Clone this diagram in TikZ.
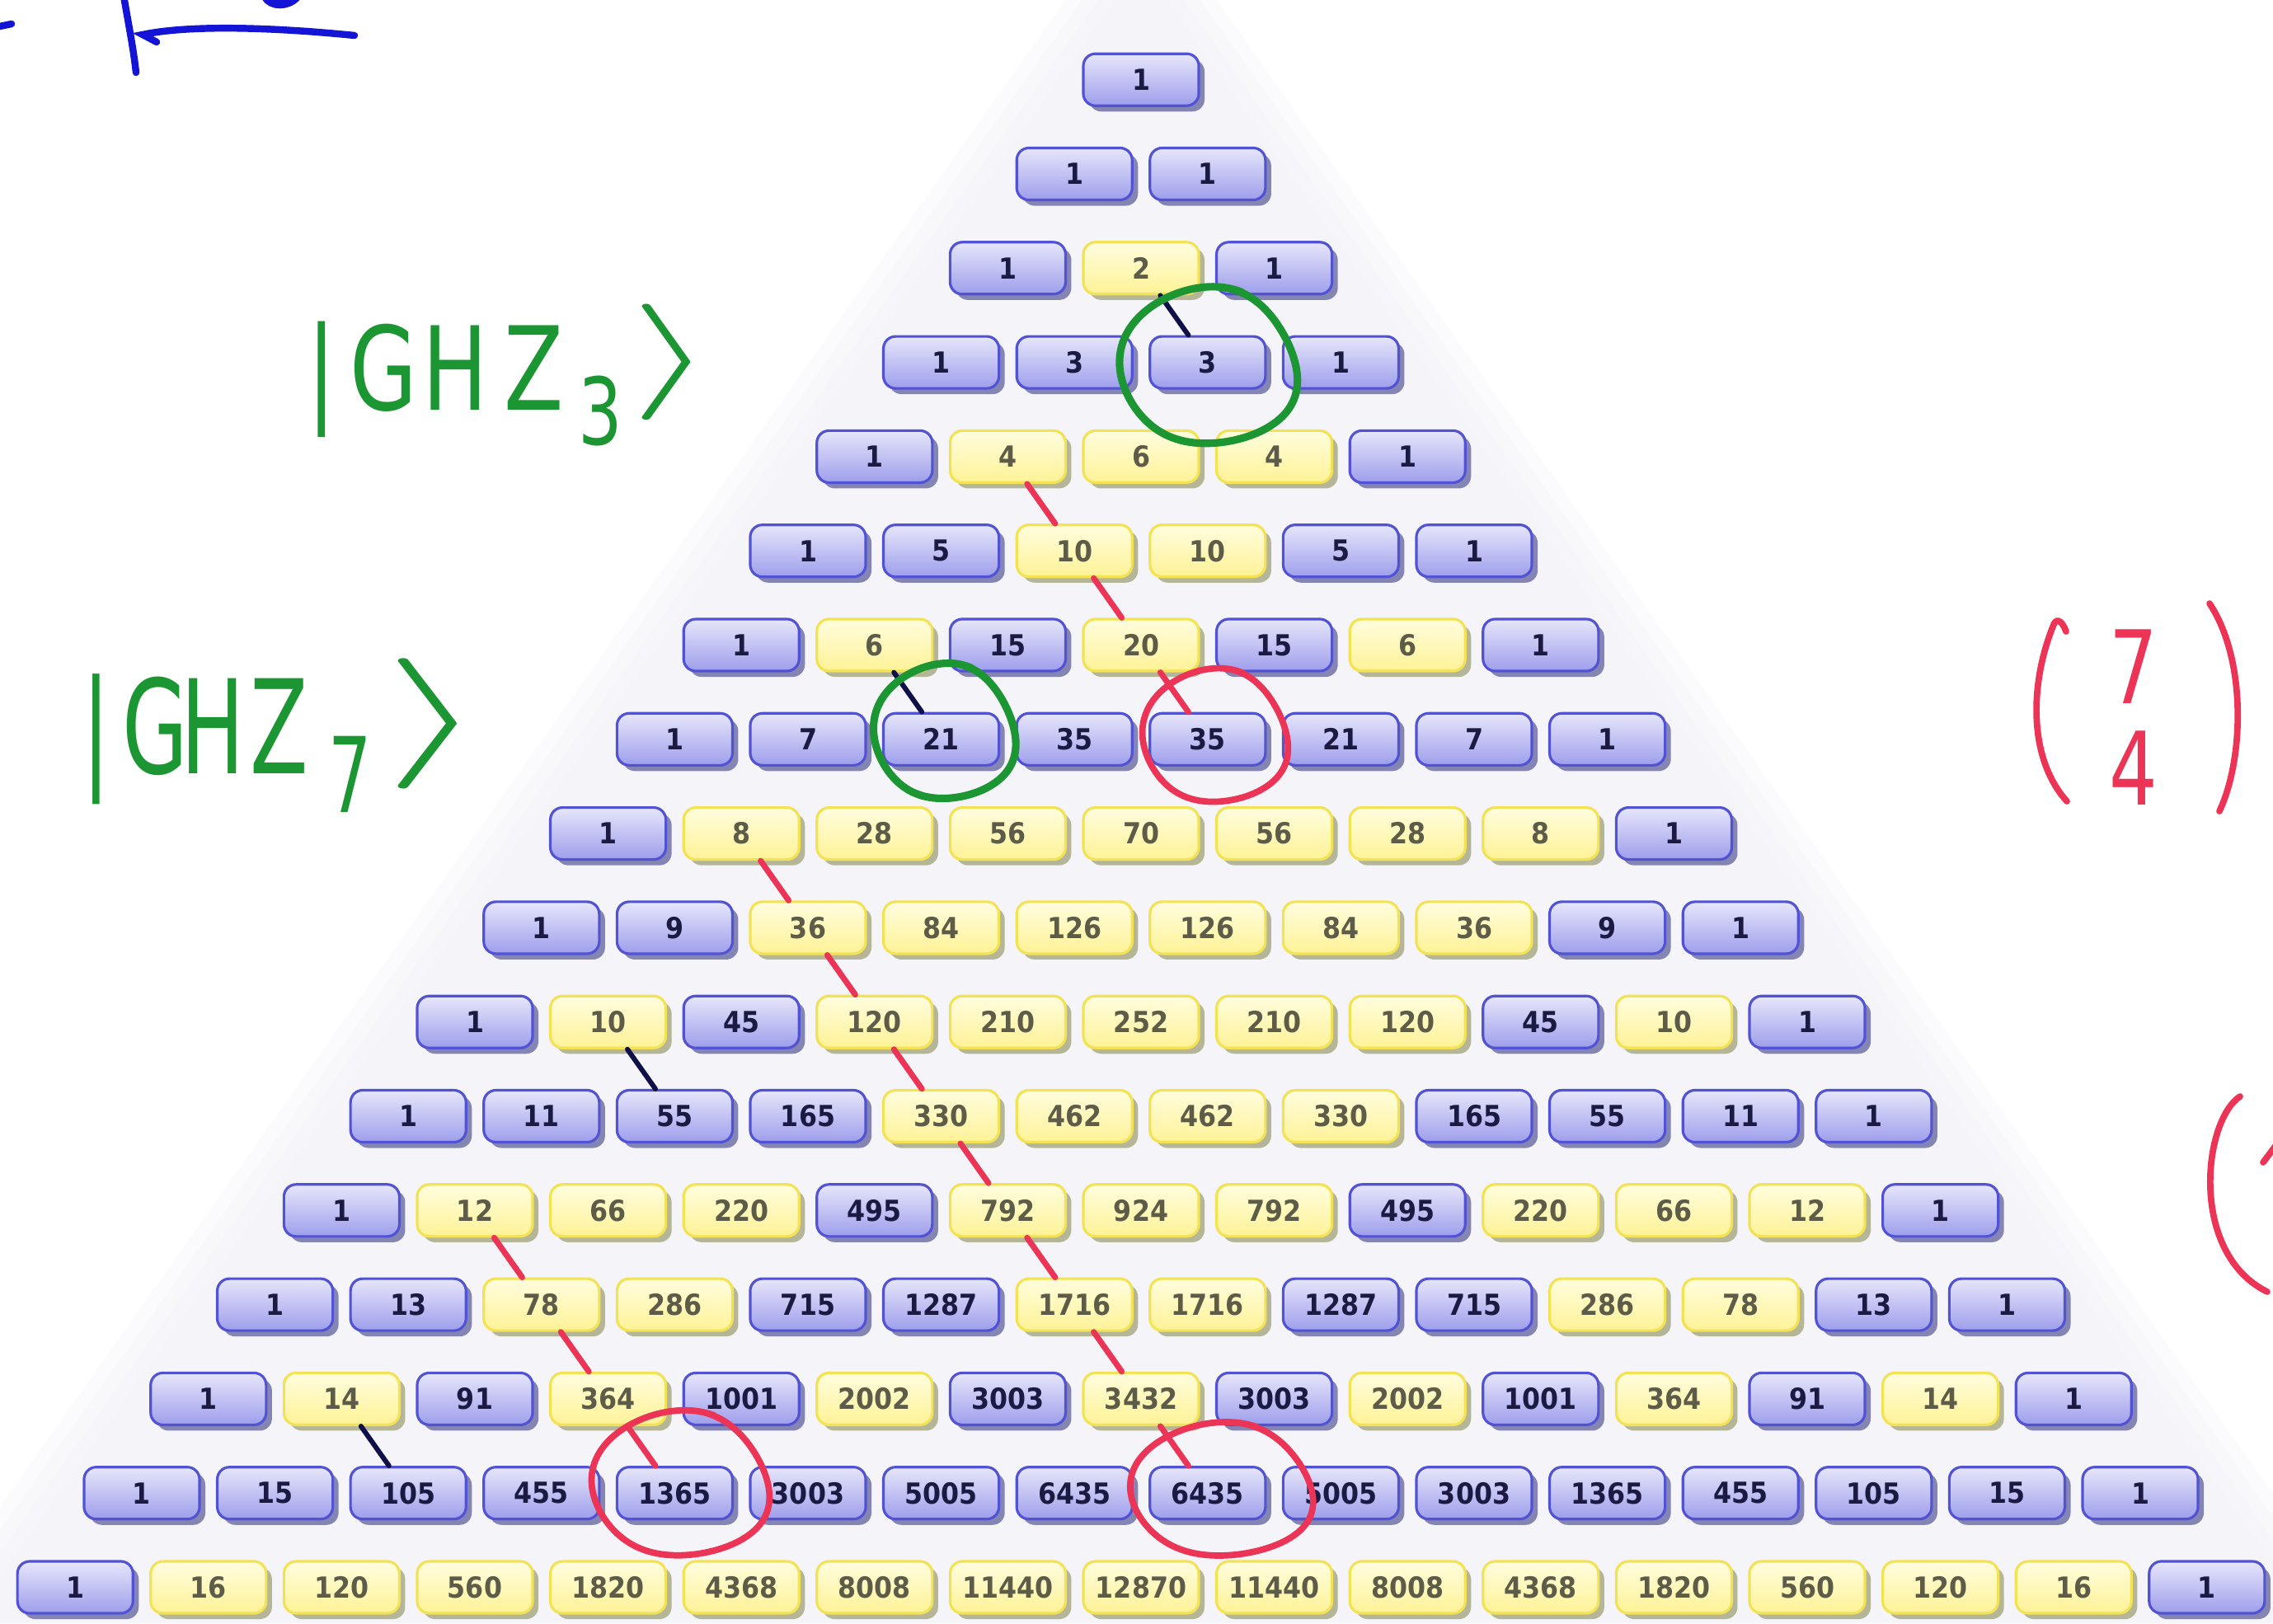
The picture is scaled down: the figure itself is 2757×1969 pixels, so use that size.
\documentclass[tikz,border=0pt]{standalone}
\usepackage{fontspec}
\usepackage{graphicx}
\usetikzlibrary{shadows}
\newfontfamily\numfont{DejaVu Sans Condensed Bold}
\newfontfamily\handfont{DejaVu Sans}[FakeStretch=0.75]
\newfontfamily\handfontn{DejaVu Sans}[FakeStretch=0.65]
\definecolor{bltop}{RGB}{230,230,251}
\definecolor{blbot}{RGB}{158,158,236}
\definecolor{blline}{RGB}{82,82,212}
\definecolor{bltxt}{RGB}{26,26,66}
\definecolor{blsh}{RGB}{96,96,156}
\definecolor{yetop}{RGB}{255,253,222}
\definecolor{yebot}{RGB}{255,242,150}
\definecolor{yeline}{RGB}{242,226,84}
\definecolor{yetxt}{RGB}{92,92,72}
\definecolor{yesh}{RGB}{160,160,120}
\definecolor{bgc}{RGB}{241,242,249}
\definecolor{pengreen}{RGB}{28,150,50}
\definecolor{penred}{RGB}{236,52,86}
\definecolor{pennavy}{RGB}{16,16,72}
\definecolor{penblue}{RGB}{20,20,215}
\newcount\binval
\newcommand\handloop[6]{%
  \draw[#1, shift={(#2.center)}] plot[variable=\t, domain=-100:290, samples=80, smooth]
    ({#3+#5*(1+0.0001*(\t+100))*cos(\t)+0.04*#5*sin(3*\t)},
     {#4+#6*sin(\t)+0.04*#6*cos(2*\t)});}
\begin{document}
\begin{tikzpicture}[x=0.01cm,y=-0.01cm,
  numbox/.style={rounded corners=4.2pt, minimum width=1.40cm, minimum height=0.63cm,
    inner sep=0pt, line width=0.9pt, font=\numfont\fontsize{10}{10}\selectfont},
  redline/.style={draw=penred, line width=2pt, line cap=round},
  navyline/.style={draw=pennavy, line width=1.7pt, line cap=round},
  greenpen/.style={draw=pengreen, line width=2.6pt, line cap=round},
  redpen/.style={draw=penred, line width=2.2pt, line cap=round},
  bluepen/.style={draw=penblue, line width=2.4pt, line cap=round},
  greenhand/.style={text=pengreen, inner sep=0pt, anchor=base west},
  redhand/.style={text=penred, inner sep=0pt, align=center}]
\useasboundingbox (0,0) rectangle (2757,1969);
\clip (0,0) rectangle (2757,1969);
\fill[white] (0,0) rectangle (2757,1969);
% faint background triangle
\foreach \w in {160,140,120,100}{
  \fill[bgc, fill opacity=0.25] (1384,{96.7-\w/0.707}) -- ({1384-\w-1324},1969) -- ({1384+\w+1324},1969) -- cycle;
}
% Pascal boxes
\foreach \n in {0,...,16}{
  \global\binval=1
  \foreach \k in {0,...,\n}{
    \ifodd\binval \gdef\bcol{bl}\else\gdef\bcol{ye}\fi
    \edef\val{\the\binval}
    \node[numbox, top color=\bcol top, bottom color=\bcol bot, draw=\bcol line, text=\bcol txt,
      drop shadow={shadow xshift=2pt, shadow yshift=-2pt, fill=\bcol sh, opacity=0.75}]
      (r\n-\k) at ({1384+(\k-\n/2)*161.6},{96.7+\n*114.3}) {\val};
    \global\binval=\numexpr\binval*(\n-\k)/(\k+1)\relax
  }
}
% red diagonal connectors
\foreach \a/\b in {4-1/5-2,5-2/6-3,6-3/7-4,
  8-1/9-2,9-2/10-3,10-3/11-4,11-4/12-5,12-5/13-6,13-6/14-7,14-7/15-8,
  12-1/13-2,13-2/14-3,14-3/15-4}{
  \draw[redline] (r\a) -- (r\b);
}
% navy connectors
\foreach \a/\b in {2-1/3-2,6-1/7-2,10-1/11-2,14-1/15-2}{
  \draw[navyline] (r\a) -- (r\b);
}
% hand-drawn loops
\handloop{greenpen}{r3-2}{2}{7}{105}{95}
\handloop{greenpen}{r7-2}{5}{-7}{84}{82}
\handloop{redpen}{r7-4}{10}{-2}{86}{81}
\handloop{redpen}{r15-4}{8}{-9}{105}{88}
\handloop{redpen}{r15-8}{18}{-2}{108}{81}
% green handwritten kets
\node[greenhand, font=\handfont\fontsize{40}{40}\selectfont] (ghz3) at (372,497)
  {|\kern0.117em G\kern0.045em H\kern0.135em Z\kern0.128em\raisebox{-0.3em}{\fontsize{32}{32}\selectfont 3}\kern0.07em\raisebox{0.16em}{\scalebox{7.5}[4.0]{\fontsize{10}{12}\selectfont$\rangle$}}};
\node[greenhand, font=\handfontn\fontsize{45}{45}\selectfont] (ghz7) at (99,938)
  {|\kern0.089em G\kern-0.057em H\kern0.044em Z\kern0.158em\raisebox{-0.3em}{\fontsize{36}{36}\selectfont 7}\kern0.09em\raisebox{0.13em}{\scalebox{9.1}[4.5]{\fontsize{10}{12}\selectfont$\rangle$}}};
% red binomial (7 4)
\node[redhand, font=\handfont\fontsize{35}{35}\selectfont] (binom) at (2588,870) {7\\4};
\draw[redpen] (2506,766) .. controls (2500,750) and (2493,750) .. (2490,760)
  .. controls (2462,830) and (2460,920) .. (2507,972);
\draw[redpen] (2680,732) .. controls (2725,800) and (2722,920) .. (2692,984);
% partial red parenthesis at right edge
\draw[redpen] (2717,1330) .. controls (2672,1360) and (2655,1520) .. (2750,1567);
\draw[redpen] (2745,1410) -- (2760,1390);
% blue strokes at top left
\draw[bluepen] (150,-5) .. controls (156,30) and (162,60) .. (165,88);
\draw[bluepen] (190,51) -- (173,42) .. controls (230,30) and (330,33) .. (430,43);
\draw[bluepen, line width=3pt] (322,-4) .. controls (329,8) and (349,8) .. (360,-4);
\draw[bluepen] (-10,34) -- (14,29);
\end{tikzpicture}
\end{document}
